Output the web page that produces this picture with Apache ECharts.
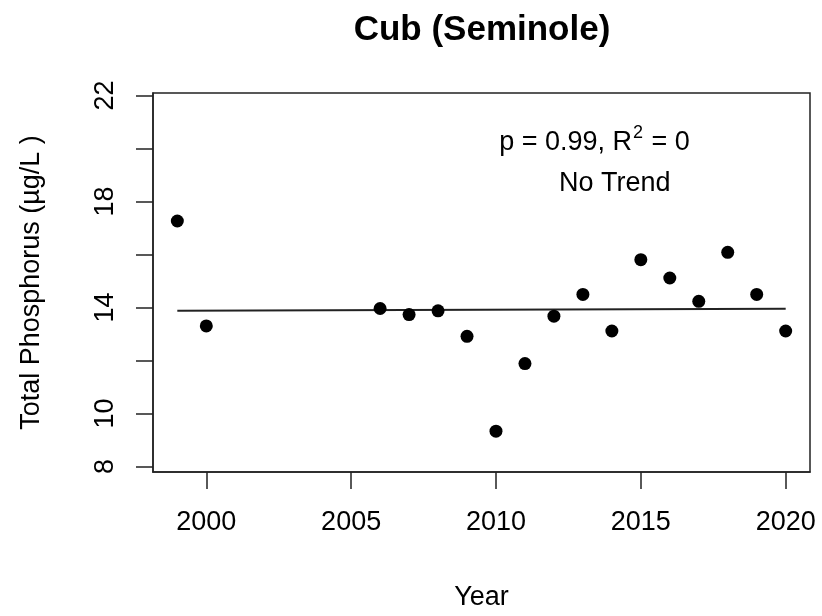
<!DOCTYPE html>
<html>
<head>
<meta charset="utf-8">
<script src="https://cdn.jsdelivr.net/npm/echarts@6/dist/echarts.min.js"></script>
<style>
  html, body { margin: 0; padding: 0; background: #fff; }
  #chart { width: 822px; height: 616px; }
</style>
</head>
<body>
<div id="chart"></div>
<script>
// observed annual values
const years = [1999, 2000, 2006, 2007, 2008, 2009, 2010, 2011, 2012, 2013, 2014, 2015, 2016, 2017, 2018, 2019, 2020];
const phosphorus = [17.26, 13.30, 13.96, 13.73, 13.87, 12.91, 9.33, 11.88, 13.67, 14.49, 13.11, 15.80, 15.11, 14.23, 16.08, 14.49, 13.11];

// fitted trend line (end points)
const trendYears = [1999, 2020];
const trendValues = [13.87, 13.95];

// axis ticks
const xTicks = [2000, 2005, 2010, 2015, 2020];
const yTicks = [8, 10, 12, 14, 16, 18, 20, 22];
const yTickLabels = [8, 10, 14, 18, 22];

// annotation anchors (data coords)
const statsAnchor = [2013.4, 20.3];
const trendAnchor = [2014.1, 18.75];

const FONT = 'Liberation Sans';
const myChart = echarts.init(document.getElementById('chart'));

const option = {
    backgroundColor: '#fff',
    animation: false,
    textStyle: { fontFamily: FONT },
    title: {
        text: 'Cub (Seminole)',
        left: 477,
        top: 8,
        textAlign: 'center',
        textStyle: { fontFamily: FONT, fontSize: 35, fontWeight: 'bold', color: '#000' }
    },
    grid: {
        left: 153,
        right: 12,
        top: 93,
        bottom: 144,
        show: true,
        borderColor: '#222',
        borderWidth: 1.5
    },
    xAxis: {
        type: 'value',
        min: 1998.16,
        max: 2020.84,
        name: 'Year',
        nameLocation: 'middle',
        nameGap: 112,
        nameTextStyle: { fontFamily: FONT, fontSize: 27, color: '#000' },
        axisLine: { show: true, lineStyle: { color: '#222', width: 1.5 } },
        axisTick: { show: true, length: 17, customValues: xTicks, lineStyle: { color: '#222', width: 1.5 } },
        axisLabel: {
            customValues: xTicks, margin: 37, fontSize: 27, color: '#000', fontFamily: FONT,
            formatter: (v) => String(v)
        },
        splitLine: { show: false }
    },
    yAxis: {
        type: 'value',
        min: 7.79,
        max: 22.09,
        name: 'Total Phosphorus (µg/L )',
        nameLocation: 'middle',
        nameRotate: 90,
        nameGap: 108,
        nameTextStyle: { fontFamily: FONT, fontSize: 27, color: '#000' },
        axisLine: { show: true, lineStyle: { color: '#222', width: 1.5 } },
        axisTick: { show: true, length: 17, customValues: yTicks, lineStyle: { color: '#222', width: 1.5 } },
        axisLabel: { customValues: yTickLabels, rotate: 90, margin: 34, fontSize: 27, color: '#000', fontFamily: FONT },
        splitLine: { show: false }
    },
    series: [
        {
            type: 'line',
            data: trendYears.map((y, i) => [y, trendValues[i]]),
            symbol: 'none',
            lineStyle: { color: '#222', width: 2 },
            z: 1
        },
        {
            type: 'scatter',
            data: years.map((y, i) => [y, phosphorus[i]]),
            symbol: 'circle',
            symbolSize: 13,
            itemStyle: { color: '#000', opacity: 1 },
            z: 2
        },
        {
            type: 'scatter',
            data: [statsAnchor, trendAnchor],
            symbolSize: 0,
            silent: true,
            itemStyle: { opacity: 1 },
            label: {
                show: true,
                position: 'inside',
                color: '#000',
                fontFamily: FONT,
                fontSize: 27,
                formatter: (p) => p.dataIndex === 0
                    ? '{t|p = 0.99, R}{s|2}{t| = 0}'
                    : '{t|No Trend}',
                rich: {
                    t: { fontFamily: FONT, fontSize: 27, color: '#000', lineHeight: 32, verticalAlign: 'bottom' },
                    s: { fontFamily: FONT, fontSize: 18, color: '#000', lineHeight: 32, verticalAlign: 'top', padding: [0, 1, 0, 1] }
                }
            }
        }
    ]
};

myChart.setOption(option);
</script>
</body>
</html>
